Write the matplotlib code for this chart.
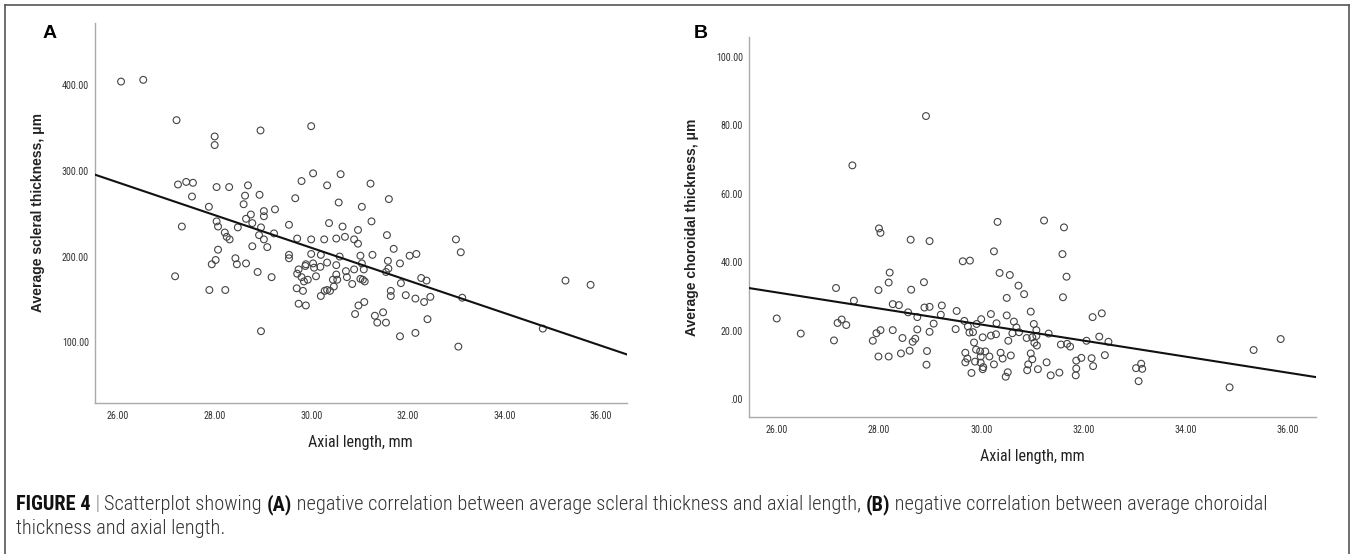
import numpy as np
import matplotlib
matplotlib.use("Agg")
import matplotlib.pyplot as plt
from matplotlib.lines import Line2D

plt.rcParams['font.family'] = ['Liberation Sans Narrow', 'Roboto Condensed', 'DejaVu Sans']
plt.rcParams['font.stretch'] = 'condensed'

# panel A: axial length (mm) vs average scleral thickness (um)
axial_a = [26.06, 26.52, 27.21, 28.00, 28.00, 28.95, 30.00, 27.24, 27.41, 27.55,
           27.53, 28.04, 28.30, 28.69, 28.63, 28.93, 27.88, 28.60, 28.75, 29.02,
           29.02, 29.25, 28.65, 28.78, 28.04, 28.07, 27.32, 28.48, 28.96, 28.21,
           28.25, 28.31, 28.92, 29.02, 29.23, 28.78, 29.09, 28.07, 29.54, 29.67,
           29.80, 30.04, 30.33, 30.61, 31.23, 31.61, 30.57, 31.05, 30.37, 30.65,
           31.25, 30.97, 30.70, 30.52, 30.27, 30.00, 29.71, 30.89, 30.97, 31.57,
           31.71, 29.54, 29.54, 30.00, 30.20, 30.59, 31.02, 31.27, 32.04, 32.18,
           31.59, 31.84, 31.05, 30.52, 30.33, 30.04, 29.89, 29.88, 30.06, 30.19,
           28.43, 28.46, 28.65, 28.02, 27.94, 27.18, 27.89, 28.22, 28.89, 29.18,
           28.96, 29.70, 29.74, 29.89, 29.83, 29.71, 29.74, 29.80, 29.85, 29.93,
           30.10, 30.20, 30.28, 30.33, 30.39, 30.45, 30.47, 30.52, 30.54, 30.72,
           30.74, 30.85, 30.89, 31.02, 31.07, 31.11, 31.09, 30.98, 31.10, 30.91,
           31.32, 31.37, 31.49, 31.55, 31.55, 31.60, 31.65, 31.65, 31.86, 31.96,
           31.84, 32.16, 32.16, 32.28, 32.39, 32.34, 32.47, 32.41, 33.00, 33.10,
           33.13, 33.05, 34.80, 35.27, 35.79]
scleral = [404, 406, 359, 330, 340, 347, 352, 284, 287, 286,
           270, 281, 281, 283, 271, 272, 258, 261, 249, 253,
           247, 255, 244, 239, 241, 235, 235, 234, 234, 228,
           223, 220, 225, 220, 227, 212, 211, 208, 237, 268,
           288, 297, 283, 296, 285, 267, 263, 258, 239, 235,
           241, 231, 223, 221, 220, 220, 221, 220, 215, 225,
           209, 202, 198, 203, 202, 200, 201, 202, 201, 203,
           195, 192, 192, 190, 193, 192, 191, 189, 187, 188,
           198, 191, 192, 196, 191, 177, 161, 161, 182, 176,
           113, 163, 145, 143, 160, 180, 185, 176, 171, 173,
           177, 154, 160, 161, 160, 173, 165, 179, 173, 183,
           176, 168, 185, 174, 173, 171, 185, 143, 147, 133,
           131, 123, 135, 123, 182, 186, 160, 154, 169, 155,
           107, 151, 111, 175, 172, 147, 153, 127, 220, 205,
           152, 95, 116, 172, 167]

# panel B: axial length (mm) vs average choroidal thickness (um)
axial_b = [28.92, 27.48, 28.00, 28.03, 28.62, 28.99, 30.32, 31.23, 31.62, 30.25,
           29.64, 29.78, 31.59, 30.36, 30.56, 31.67, 28.21, 28.19, 28.88, 27.16,
           27.99, 28.63, 30.73, 30.84, 30.50, 31.60, 27.51, 28.27, 28.39, 28.89,
           28.99, 29.23, 28.57, 29.52, 29.21, 28.75, 30.19, 30.50, 30.97, 32.18,
           32.36, 26.00, 27.27, 27.19, 27.36, 29.07, 29.67, 30.00, 30.30, 30.64,
           29.91, 29.74, 30.69, 31.03, 26.47, 27.12, 27.88, 27.95, 28.03, 28.27,
           28.46, 28.66, 28.71, 28.75, 28.99, 29.50, 29.77, 29.84, 30.03, 30.19,
           30.29, 30.53, 30.61, 30.74, 30.89, 31.08, 31.08, 31.32, 31.00, 31.04,
           31.09, 29.86, 31.56, 31.68, 31.74, 32.06, 32.31, 32.49, 28.19, 27.99,
           28.43, 28.60, 28.94, 28.93, 29.69, 29.73, 29.69, 29.81, 29.90, 29.88,
           29.98, 30.08, 29.99, 29.99, 30.04, 30.03, 30.16, 30.25, 30.38, 30.42,
           30.58, 30.52, 30.48, 30.90, 30.92, 30.97, 31.00, 31.11, 31.28, 31.36,
           31.53, 31.86, 31.96, 31.86, 31.85, 32.16, 32.19, 32.42, 33.03, 33.13,
           33.15, 33.08, 34.86, 35.33, 35.86]
choroidal = [82.7, 68.3, 49.9, 48.6, 46.6, 46.2, 51.8, 52.2, 50.2, 43.2,
             40.3, 40.5, 42.4, 36.9, 36.3, 35.8, 37.0, 34.1, 34.2, 32.5,
             31.9, 32.0, 33.2, 30.7, 29.6, 29.8, 28.8, 27.8, 27.5, 26.8,
             27.0, 27.4, 25.4, 25.8, 24.7, 24.0, 24.9, 24.5, 25.6, 24.0,
             25.1, 23.6, 23.3, 22.3, 21.7, 22.1, 22.9, 23.4, 22.2, 22.7,
             22.0, 21.3, 21.0, 22.0, 19.2, 17.2, 17.1, 19.3, 20.2, 20.2,
             17.9, 16.8, 17.7, 20.4, 19.7, 20.5, 19.5, 19.6, 18.1, 18.6,
             19.0, 17.1, 19.3, 19.6, 17.9, 20.2, 18.5, 19.2, 18.1, 16.5,
             15.7, 16.6, 16.0, 16.2, 15.4, 17.1, 18.3, 16.8, 12.5, 12.5,
             13.4, 14.2, 14.1, 10.1, 13.6, 11.9, 10.8, 7.7, 14.5, 11.0,
             14.0, 14.0, 12.5, 10.7, 9.4, 8.8, 12.5, 10.2, 13.6, 11.9,
             12.8, 7.9, 6.6, 8.5, 10.2, 13.4, 11.7, 8.8, 10.8, 7.0,
             7.8, 11.3, 12.1, 9.0, 7.0, 12.0, 9.7, 12.9, 9.1, 10.4,
             8.9, 5.3, 3.5, 14.4, 17.6]

x_ticks = [26, 28, 30, 32, 34, 36]
y_ticks_a = [100, 200, 300, 400]
y_ticks_b = [0, 20, 40, 60, 80, 100]


def fmt(v):
    s = '%.2f' % v
    return s[1:] if s.startswith('0') else s


fig = plt.figure(figsize=(13.54, 5.54), dpi=100)

# border around the figure (no bottom edge visible)
for xs, ys in [([5, 5], [554, 5]), ([5, 1349], [5, 5]), ([1349, 1349], [5, 554])]:
    fig.add_artist(Line2D([x / 1354 for x in xs], [1 - y / 554 for y in ys],
                          color='#555555', lw=1.2, transform=fig.transFigure))


def panel(rect, x, y, yticks, xlim, ylim, ylabel, letter, letter_xy):
    ax = fig.add_axes(rect)
    ax.scatter(x, y, s=24, facecolors='none', edgecolors='#444444', linewidths=0.8, zorder=3)
    k, b = np.polyfit(x, y, 1)
    xx = np.array(xlim)
    ax.plot(xx, k * xx + b, color='#111111', lw=1.5, zorder=4)
    ax.set_xlim(xlim)
    ax.set_ylim(ylim)
    ax.set_xticks(x_ticks)
    ax.set_xticklabels([fmt(t) for t in x_ticks])
    ax.set_yticks(yticks)
    ax.set_yticklabels([fmt(t) for t in yticks])
    ax.tick_params(length=0, labelsize=7.2, labelcolor='#333333')
    ax.tick_params(axis='x', pad=6)
    ax.tick_params(axis='y', pad=4)
    for sp in ['top', 'right']:
        ax.spines[sp].set_visible(False)
    for sp in ['left', 'bottom']:
        ax.spines[sp].set_color('#aaaaaa')
        ax.spines[sp].set_linewidth(1.0)
    ax.set_xlabel('Axial length, mm', fontsize=11.5, color='#222222', labelpad=10)
    ax.set_ylabel(ylabel, fontsize=10, fontweight='bold', color='#222222',
                  family=['Liberation Sans', 'DejaVu Sans'], fontstretch='normal', labelpad=12)
    fig.text(letter_xy[0] / 1354, 1 - letter_xy[1] / 554, letter, fontsize=14,
             fontweight='bold', family=['Liberation Sans', 'DejaVu Sans'],
             fontstretch='normal', ha='center', va='center')
    return ax


ax_a = panel([0.0698, 0.2726, 0.3931, 0.6864], axial_a, scleral, y_ticks_a,
             (25.51, 36.54), (29.3, 472.6), 'Average scleral thickness, \u03bcm', 'A', (50, 33))
ax_b = panel([0.5529, 0.2478, 0.4190, 0.6849], axial_b, choroidal, y_ticks_b,
             (25.45, 36.55), (-5.08, 105.7), 'Average choroidal thickness, \u03bcm', 'B', (701, 33))

# caption with bold runs
runs1 = [('FIGURE 4', 'bold', '#111111'), (' | ', 'light', '#888888'),
         ('Scatterplot showing ', 'light', '#333333'), ('(A)', 'bold', '#111111'),
         (' negative correlation between average scleral thickness and axial length, ', 'light', '#333333'),
         ('(B)', 'bold', '#111111'),
         (' negative correlation between average choroidal', 'light', '#333333')]
runs2 = [('thickness and axial length.', 'light', '#333333')]

renderer = fig.canvas.get_renderer()


def draw_runs(runs, x0, y0, size=14.7):
    x = x0
    for txt, w, c in runs:
        t = fig.text(x / 1354, 1 - y0 / 554, txt, fontsize=size, fontweight=w, color=c,
                     ha='left', va='center')
        bb = t.get_window_extent(renderer=renderer)
        x += bb.width
    return x


draw_runs(runs1, 16, 505)
draw_runs(runs2, 16, 529)

fig.savefig('out.png', dpi=100)
